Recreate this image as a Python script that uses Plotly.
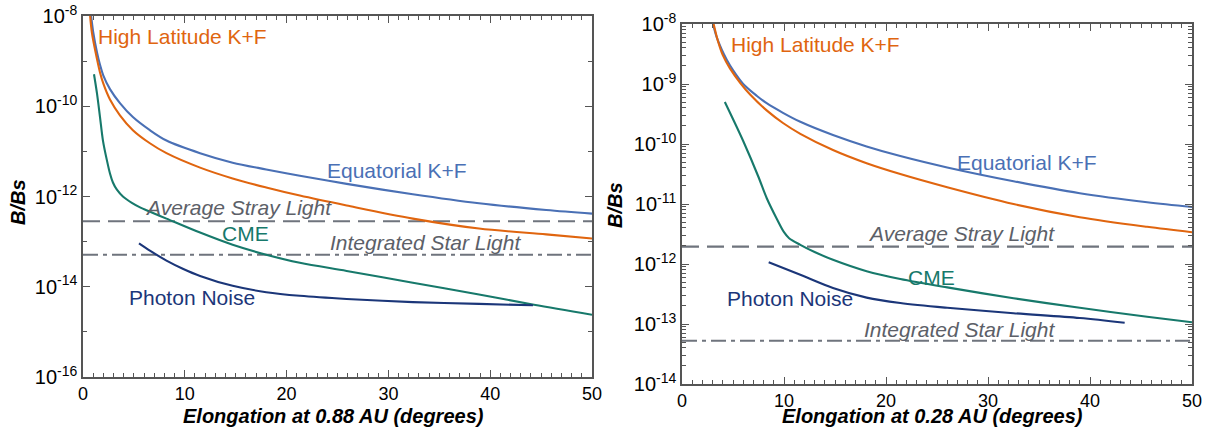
import plotly.graph_objects as go

# ---------------- data (y given as log10(B/Bs)) ----------------
# Left panel: 0.88 AU
L_eq_x   = [0.8, 1.0, 1.37, 1.67, 2.0, 2.65, 3.63, 4.9, 6.57, 8.2, 11.5, 14.7, 18.0, 21.3, 25.9, 32.4, 38.9, 45.5, 50]
L_eq_log = [-8.0, -8.35, -8.8, -9.08, -9.32, -9.62, -9.93, -10.24, -10.53, -10.76, -11.04, -11.25, -11.4, -11.54, -11.72, -11.95, -12.15, -12.3, -12.38]

L_hl_x   = [0.7, 0.88, 1.37, 1.67, 2.0, 2.65, 3.63, 4.9, 6.57, 8.2, 11.5, 14.7, 18.0, 21.3, 25.9, 32.4, 38.9, 45.5, 50]
L_hl_log = [-8.0, -8.38, -8.95, -9.25, -9.5, -9.85, -10.2, -10.53, -10.82, -11.04, -11.36, -11.6, -11.8, -11.98, -12.2, -12.49, -12.71, -12.84, -12.93]

L_cme_x   = [1.08, 1.37, 1.67, 1.96, 2.35, 2.65, 2.94, 3.33, 3.92, 4.8, 5.6, 6.3, 8.2, 11.5, 14.7, 18.0, 21.3, 25.9, 32.4, 38.9, 44.3, 50]
L_cme_log = [-9.29, -9.71, -10.24, -10.76, -11.2, -11.49, -11.69, -11.85, -12.0, -12.14, -12.24, -12.31, -12.49, -12.8, -13.07, -13.29, -13.47, -13.65, -13.91, -14.17, -14.4, -14.62]

L_pn_x   = [5.5, 6.57, 8.2, 9.8, 11.5, 14.7, 18.0, 21.3, 25.9, 32.4, 38.9, 44.2]
L_pn_log = [-13.04, -13.2, -13.42, -13.6, -13.76, -13.98, -14.12, -14.2, -14.27, -14.34, -14.38, -14.41]

L_stray_log = -12.55
L_star_log = -13.29

# Right panel: 0.28 AU
R_eq_x   = [3.04, 3.4, 3.9, 4.4, 5.0, 6.0, 7.35, 8.3, 9.9, 11.6, 14.8, 18.1, 21.4, 26, 32.5, 39, 45.6, 50]
R_eq_log = [-8.0, -8.22, -8.43, -8.6, -8.77, -9.0, -9.2, -9.32, -9.48, -9.63, -9.85, -10.04, -10.2, -10.39, -10.62, -10.82, -10.97, -11.05]

R_hl_x   = [3.1, 3.5, 4.0, 4.7, 5.7, 6.7, 8.3, 9.9, 11.6, 14.8, 18.1, 21.4, 26, 32.5, 39, 45.6, 50]
R_hl_log = [-8.0, -8.27, -8.52, -8.74, -8.98, -9.18, -9.44, -9.65, -9.83, -10.1, -10.32, -10.5, -10.72, -11.0, -11.22, -11.38, -11.47]

R_cme_x   = [4.2, 6.0, 7.5, 8.3, 9.3, 10.0, 10.5, 11.6, 13.0, 14.8, 18.1, 21.4, 26, 32.5, 39, 45.6, 50]
R_cme_log = [-9.3, -9.95, -10.55, -10.9, -11.25, -11.47, -11.57, -11.68, -11.8, -11.93, -12.12, -12.25, -12.39, -12.57, -12.73, -12.88, -12.97]

R_pn_x   = [8.5, 11.6, 14.8, 18.1, 21.4, 26, 32.5, 39, 43.4]
R_pn_log = [-11.97, -12.18, -12.4, -12.56, -12.65, -12.73, -12.82, -12.9, -12.98]

R_stray_log = -11.71
R_star_log = -13.28

x_range = [0, 50]
L_decades = [-16, -15, -14, -13, -12, -11, -10, -9, -8]
R_decades = [-14, -13, -12, -11, -10, -9, -8]
x_major = [0, 10, 20, 30, 40, 50]
x_minor = list(range(0, 51))

# ---------------- styles ----------------
C_EQ = "#4a70b5"
C_HL = "#e0650f"
C_CME = "#17796b"
C_PN = "#1b3679"
C_GRAY = "#6f747d"
C_TXTGRAY = "#5c6068"
AXC = "#555555"
FONT = "Arial, Liberation Sans, sans-serif"
DASH = "17px,8px"
DASHDOT = "15px,5px,4px,5px"

fig = go.Figure()

def vals(logs):
    return [10.0 ** v for v in logs]

def line(x, logs, color, xa, ya, dash="solid", width=2.1):
    fig.add_trace(go.Scatter(x=x, y=vals(logs), mode="lines", xaxis=xa, yaxis=ya,
                             line=dict(color=color, width=width, dash=dash, shape="spline", smoothing=0.9),
                             showlegend=False, hoverinfo="skip"))

# left panel
line(x_range, [L_stray_log] * 2, C_GRAY, "x", "y", dash=DASH)
line(x_range, [L_star_log] * 2, C_GRAY, "x", "y", dash=DASHDOT)
line(L_eq_x, L_eq_log, C_EQ, "x", "y")
line(L_hl_x, L_hl_log, C_HL, "x", "y")
line(L_cme_x, L_cme_log, C_CME, "x", "y")
line(L_pn_x, L_pn_log, C_PN, "x", "y")

# right panel
line(x_range, [R_stray_log] * 2, C_GRAY, "x2", "y2", dash=DASH)
line(x_range, [R_star_log] * 2, C_GRAY, "x2", "y2", dash=DASHDOT)
line(R_eq_x, R_eq_log, C_EQ, "x2", "y2")
line(R_hl_x, R_hl_log, C_HL, "x2", "y2")
line(R_cme_x, R_cme_log, C_CME, "x2", "y2")
line(R_pn_x, R_pn_log, C_PN, "x2", "y2")

W, H = 1205, 432

def xaxis(dom, anchor):
    return dict(domain=dom, anchor=anchor, range=x_range, type="linear", automargin=False,
                tickvals=x_major, ticks="inside", ticklen=7, tickwidth=1.3, tickcolor=AXC,
                minor=dict(tickvals=x_minor, ticks="inside", ticklen=4, tickwidth=1, tickcolor=AXC),
                showline=True, linecolor=AXC, linewidth=1.5, mirror="allticks",
                showgrid=False, zeroline=False,
                tickfont=dict(family=FONT, size=18, color="black"))

def yaxis(dom, anchor, decs, labeled, minor_vals):
    return dict(domain=dom, anchor=anchor, type="log", range=[decs[0], decs[-1]], automargin=False,
                tickvals=[10.0 ** d for d in labeled],
                ticktext=["10<sup>%d</sup>" % d for d in labeled],
                ticks="inside", ticklen=7, tickwidth=1.3, tickcolor=AXC,
                minor=dict(tickvals=minor_vals, ticks="inside", ticklen=4, tickwidth=1, tickcolor=AXC),
                showline=True, linecolor=AXC, linewidth=1.5, mirror="allticks",
                showgrid=False, zeroline=False, ticklabelstandoff=0,
                tickfont=dict(family=FONT, size=20, color="black"))

L_labeled = [d for d in L_decades if d % 2 == 0]
L_minor = [10.0 ** d for d in L_decades if d % 2 != 0]
R_minor = [m * 10.0 ** d for d in R_decades[:-1] for m in range(2, 10)]

fig.update_layout(
    width=W, height=H, margin=dict(l=0, r=0, t=0, b=0, pad=0, autoexpand=False),
    paper_bgcolor="white", plot_bgcolor="white",
    xaxis=xaxis([83 / W, 592 / W], "y"),
    yaxis=yaxis([1 - 377 / H, 1 - 16 / H], "x", L_decades, L_labeled, L_minor),
    xaxis2=xaxis([682 / W, 1192 / W], "y2"),
    yaxis2=yaxis([1 - 384 / H, 1 - 24 / H], "x2", R_decades, R_decades, R_minor),
)

def txt(s, x, y, color, size=21, xanchor="center", italic=False, bold=False, angle=0):
    if italic:
        s = "<i>" + s + "</i>"
    if bold:
        s = "<b>" + s + "</b>"
    fig.add_annotation(text=s, x=x / W, y=1 - y / H, xref="paper", yref="paper",
                       xanchor=xanchor, yanchor="middle", showarrow=False, textangle=angle,
                       font=dict(family=FONT, size=size, color=color))

# left labels
txt("High Latitude K+F", 96, 36, C_HL, xanchor="left")
txt("Equatorial K+F", 397, 171, C_EQ)
txt("Average Stray Light", 238, 208, C_TXTGRAY, italic=True)
txt("CME", 245, 234, C_CME)
txt("Integrated Star Light", 425, 242, C_TXTGRAY, italic=True)
txt("Photon Noise", 192, 297, C_PN)
txt("B/Bs", 18, 202, "black", size=20, italic=True, bold=True, angle=-90)
txt("Elongation at 0.88 AU (degrees)", 333, 416, "black", size=20, italic=True, bold=True)

# right labels
txt("High Latitude K+F", 729, 44, C_HL, xanchor="left")
txt("Equatorial K+F", 1027, 162, C_EQ)
txt("Average Stray Light", 961, 233, C_TXTGRAY, italic=True)
txt("CME", 931, 277, C_CME)
txt("Photon Noise", 790, 298, C_PN)
txt("Integrated Star Light", 960, 329, C_TXTGRAY, italic=True)
txt("B/Bs", 615, 205, "black", size=20, italic=True, bold=True, angle=-90)
txt("Elongation at 0.28 AU (degrees)", 932, 416, "black", size=20, italic=True, bold=True)

fig.write_html("out.html")
